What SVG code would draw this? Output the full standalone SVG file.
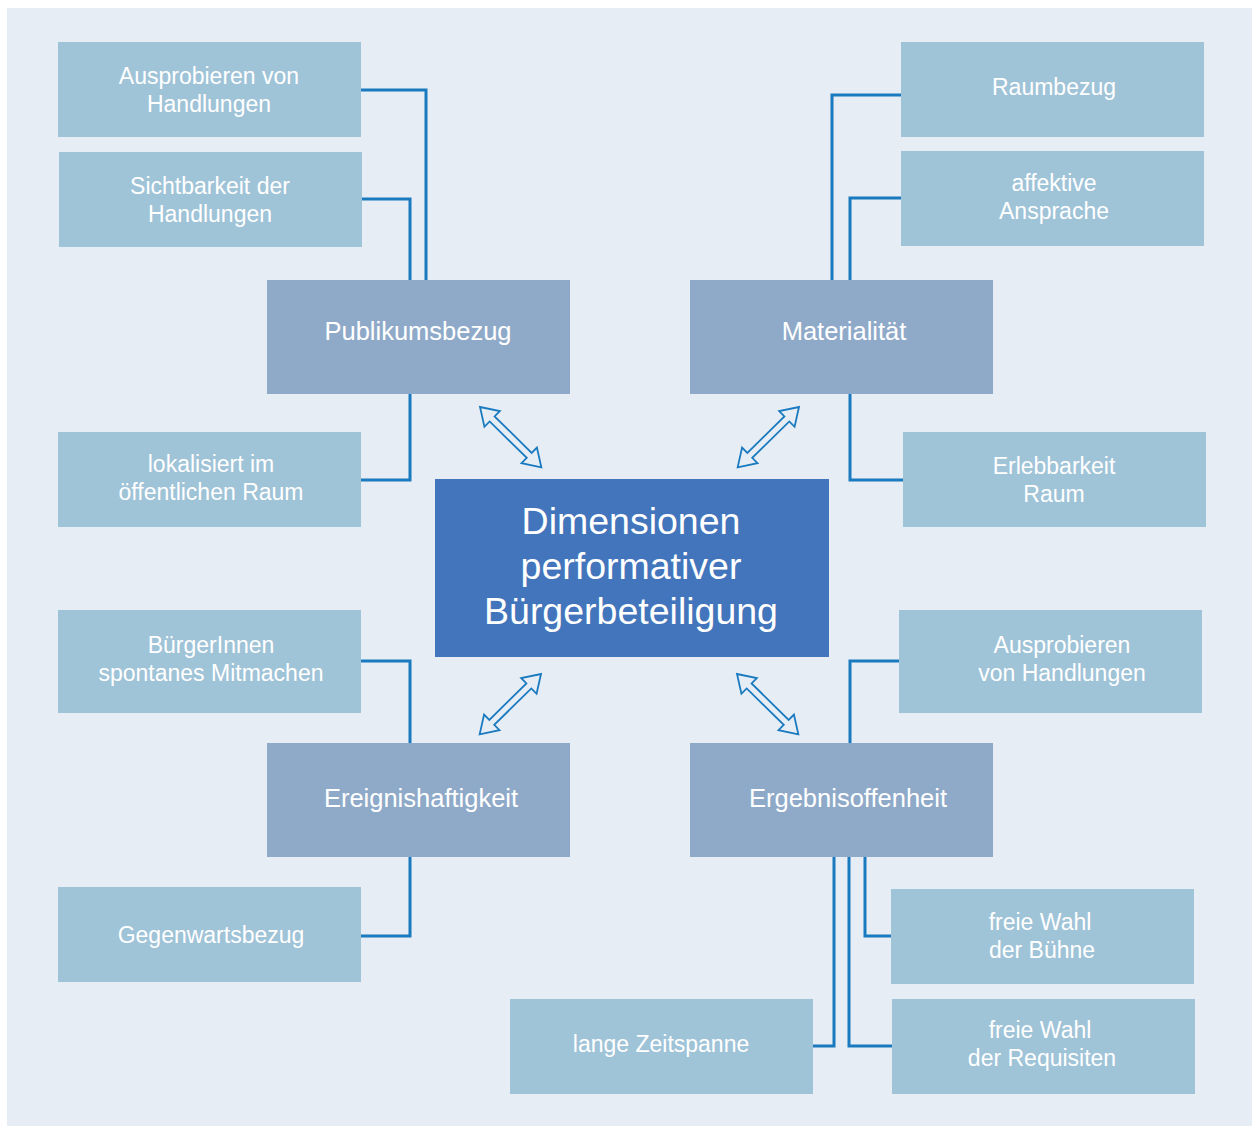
<svg xmlns="http://www.w3.org/2000/svg" width="1252" height="1126" viewBox="0 0 1252 1126">
<defs>
<style>
.sat{fill:#9fc3d7}
.mid{fill:#8faac8}
.ctr{fill:#4275bb}
.t{font-family:"Liberation Sans",Arial,sans-serif;fill:#ffffff;text-anchor:middle;font-size:23px}
.tm{font-size:25.5px}
.tc{font-size:37.5px}
.c{fill:none;stroke:#1a7abf;stroke-width:3}
.ar{fill:#e6edf5;stroke:#1a7abf;stroke-width:1.8;stroke-linejoin:miter}
</style>
<polygon id="dbl" points="0,0 17,-11 17,-3.5 69,-3.5 69,-11 86,0 69,11 69,3.5 17,3.5 17,11"/>
</defs>
<rect x="7" y="8" width="1245" height="1118" fill="#e6edf5"/>

<g id="connectors">
<polyline class="c" points="361,90 426,90 426,280"/>
<polyline class="c" points="362,199 410,199 410,280"/>
<polyline class="c" points="361,480 410,480 410,394"/>
<polyline class="c" points="901,95 832,95 832,280"/>
<polyline class="c" points="901,198 850,198 850,280"/>
<polyline class="c" points="903,480 850,480 850,394"/>
<polyline class="c" points="361,661 410,661 410,743"/>
<polyline class="c" points="361,936 410,936 410,857"/>
<polyline class="c" points="899,661 850,661 850,743"/>
<polyline class="c" points="891,936 865,936 865,857"/>
<polyline class="c" points="892,1046 849,1046 849,857"/>
<polyline class="c" points="813,1046 834,1046 834,857"/>
<use href="#dbl" class="ar" transform="translate(480,407) rotate(44.5)"/>
<use href="#dbl" class="ar" transform="translate(799,407) rotate(135.5)"/>
<use href="#dbl" class="ar" transform="translate(541,674) rotate(135.5)"/>
<use href="#dbl" class="ar" transform="translate(737,674) rotate(44.5)"/>
</g>

<g id="n_center"><rect class="ctr" x="435" y="479" width="394" height="178"/>
<text class="t tc" x="631" y="534">Dimensionen</text><text class="t tc" x="631" y="579">performativer</text><text class="t tc" x="631" y="624">Bürgerbeteiligung</text></g>

<g id="n_publikum"><rect class="mid" x="267" y="280" width="303" height="114"/><text class="t tm" x="418" y="340">Publikumsbezug</text></g>
<g id="n_material"><rect class="mid" x="690" y="280" width="303" height="114"/><text class="t tm" x="844" y="340">Materialität</text></g>
<g id="n_ereignis"><rect class="mid" x="267" y="743" width="303" height="114"/><text class="t tm" x="421" y="807">Ereignishaftigkeit</text></g>
<g id="n_ergebnis"><rect class="mid" x="690" y="743" width="303" height="114"/><text class="t tm" x="848" y="807">Ergebnisoffenheit</text></g>

<g id="n_ausprobieren1"><rect class="sat" x="58" y="42" width="303" height="95"/><text class="t" x="209" y="84">Ausprobieren von</text><text class="t" x="209" y="112">Handlungen</text></g>
<g id="n_sichtbarkeit"><rect class="sat" x="59" y="152" width="303" height="95"/><text class="t" x="210" y="194">Sichtbarkeit der</text><text class="t" x="210" y="222">Handlungen</text></g>
<g id="n_lokalisiert"><rect class="sat" x="58" y="432" width="303" height="95"/><text class="t" x="211" y="472">lokalisiert im</text><text class="t" x="211" y="500">öffentlichen Raum</text></g>
<g id="n_raumbezug"><rect class="sat" x="901" y="42" width="303" height="95"/><text class="t" x="1054" y="95">Raumbezug</text></g>
<g id="n_affektive"><rect class="sat" x="901" y="151" width="303" height="95"/><text class="t" x="1054" y="191">affektive</text><text class="t" x="1054" y="219">Ansprache</text></g>
<g id="n_erlebbarkeit"><rect class="sat" x="903" y="432" width="303" height="95"/><text class="t" x="1054" y="474">Erlebbarkeit</text><text class="t" x="1054" y="502">Raum</text></g>
<g id="n_buerger"><rect class="sat" x="58" y="610" width="303" height="103"/><text class="t" x="211" y="653">BürgerInnen</text><text class="t" x="211" y="681">spontanes Mitmachen</text></g>
<g id="n_ausprobieren2"><rect class="sat" x="899" y="610" width="303" height="103"/><text class="t" x="1062" y="653">Ausprobieren</text><text class="t" x="1062" y="681">von Handlungen</text></g>
<g id="n_gegenwart"><rect class="sat" x="58" y="887" width="303" height="95"/><text class="t" x="211" y="943">Gegenwartsbezug</text></g>
<g id="n_buehne"><rect class="sat" x="891" y="889" width="303" height="95"/><text class="t" x="1040" y="930">freie Wahl</text><text class="t" x="1042" y="958">der Bühne</text></g>
<g id="n_zeitspanne"><rect class="sat" x="510" y="999" width="303" height="95"/><text class="t" x="661" y="1052">lange Zeitspanne</text></g>
<g id="n_requisiten"><rect class="sat" x="892" y="999" width="303" height="95"/><text class="t" x="1040" y="1038">freie Wahl</text><text class="t" x="1042" y="1066">der Requisiten</text></g>
</svg>
